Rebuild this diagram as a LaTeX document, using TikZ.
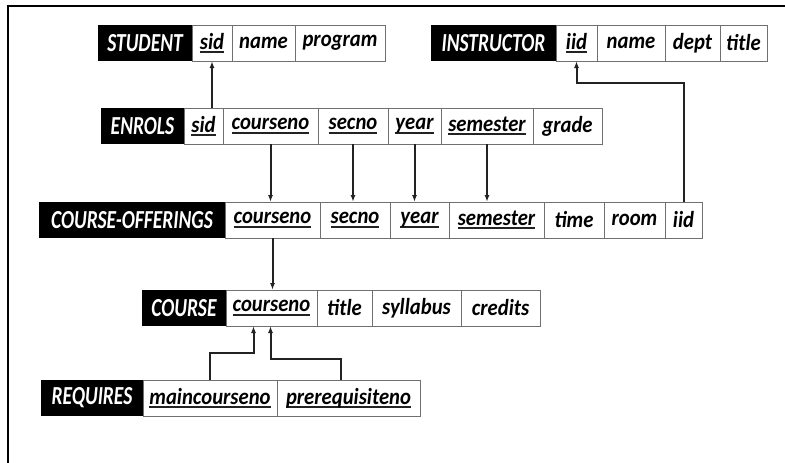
\documentclass[tikz,border=0pt]{standalone}
\usepackage{fontspec}
\usepackage{tikz}
\usetikzlibrary{arrows.meta,positioning}
\newfontfamily\fldfont{Carlito}[FakeStretch=0.9]
\newfontfamily\hdrfont{Carlito}[FakeStretch=0.75]
\definecolor{cellline}{HTML}{707070}
\definecolor{keyline}{HTML}{222222}
\newsavebox\pkbox
\newcommand{\pk}[1]{\sbox\pkbox{#1}\rlap{\color{keyline}\rule[-4pt]{\wd\pkbox}{2pt}}\usebox\pkbox}

\begin{document}
\begin{tikzpicture}[x=1pt, y=-1pt,
		hdr/.style={fill=black, text=white, inner sep=0pt, outer sep=0pt,
				minimum height=36pt,
				font=\hdrfont\bfseries\itshape\fontsize{26}{28}\selectfont},
		fld/.style={draw=cellline, line width=0.8pt, fill=white,
				inner sep=0pt, outer sep=0pt, minimum height=36pt,
				font=\fldfont\bfseries\itshape\fontsize{23}{24}\selectfont},
		fk/.style={-{Latex[length=7pt,width=5pt]}, line width=2pt, draw=keyline},
		]
		\useasboundingbox (0,0) rectangle (785,463);

		% ---- Marco ----
		\draw[line width=2pt] (8,463) -- (8,6) -- (785,6);

		% ---- STUDENT ----
		\node[hdr, minimum width=94, anchor=west] (s-hdr) at (98,43) {STUDENT};
		\node[fld, minimum width=40, right=0pt of s-hdr] (s-sid) {\pk{sid}};
		\node[fld, minimum width=63, right=0pt of s-sid] (s-name) {name};
		\node[fld, minimum width=90, right=0pt of s-name] (s-prog) {program};

		% ---- INSTRUCTOR ----
		\node[hdr, minimum width=125, anchor=west] (i-hdr) at (431,43) {INSTRUCTOR};
		\node[fld, minimum width=41, right=0pt of i-hdr] (i-iid) {\pk{iid}};
		\node[fld, minimum width=68, right=0pt of i-iid] (i-name) {name};
		\node[fld, minimum width=55, right=0pt of i-name] (i-dept) {dept};
		\node[fld, minimum width=47, right=0pt of i-dept] (i-title) {title};

		% ---- ENROLS ----
		\node[hdr, minimum width=83, anchor=west] (e-hdr) at (101,126) {ENROLS};
		\node[fld, minimum width=39, right=0pt of e-hdr] (e-sid) {\pk{sid}};
		\node[fld, minimum width=95, right=0pt of e-sid] (e-cno) {\pk{courseno}};
		\node[fld, minimum width=70, right=0pt of e-cno] (e-sec) {\pk{secno}};
		\node[fld, minimum width=53, right=0pt of e-sec] (e-yr) {\pk{year}};
		\node[fld, minimum width=92, right=0pt of e-yr] (e-sem) {\pk{semester}};
		\node[fld, minimum width=69, right=0pt of e-sem] (e-grade) {grade};

		% ---- COURSE-OFFERINGS ----
		\node[hdr, minimum width=186, anchor=west] (co-hdr) at (39,220) {COURSE-OFFERINGS};
		\node[fld, minimum width=95, right=0pt of co-hdr] (co-cno) {\pk{courseno}};
		\node[fld, minimum width=70, right=0pt of co-cno] (co-sec) {\pk{secno}};
		\node[fld, minimum width=59, right=0pt of co-sec] (co-yr) {\pk{year}};
		\node[fld, minimum width=95, right=0pt of co-yr] (co-sem) {\pk{semester}};
		\node[fld, minimum width=60, right=0pt of co-sem] (co-time) {time};
		\node[fld, minimum width=61, right=0pt of co-time] (co-room) {room};
		\node[fld, minimum width=37, right=0pt of co-room] (co-iid) {iid};

		% ---- COURSE ----
		\node[hdr, minimum width=84, anchor=west] (c-hdr) at (142,308) {COURSE};
		\node[fld, minimum width=91, right=0pt of c-hdr] (c-cno) {\pk{courseno}};
		\node[fld, minimum width=55, right=0pt of c-cno] (c-title) {title};
		\node[fld, minimum width=89, right=0pt of c-title] (c-syl) {syllabus};
		\node[fld, minimum width=79, right=0pt of c-syl] (c-cred) {credits};

		% ---- REQUIRES ----
		\node[hdr, minimum width=102, anchor=west] (r-hdr) at (41,398) {REQUIRES};
		\node[fld, minimum width=134, right=0pt of r-hdr] (r-main) {\pk{maincourseno}};
		\node[fld, minimum width=143, right=0pt of r-main] (r-pre) {\pk{prerequisiteno}};

		% ---- Claves foraneas ----
		\draw[fk] (e-sid.north -| s-sid) -- (s-sid.south);
		\draw[fk] (e-cno.south) -- (e-cno.south |- co-cno.north);
		\draw[fk] (e-sec.south) -- (e-sec.south |- co-sec.north);
		\draw[fk] (e-yr.south) -- (e-yr.south |- co-yr.north);
		\draw[fk] (e-sem.south) -- (e-sem.south |- co-sem.north);
		\draw[fk] (co-iid.north) |- (i-iid.south |- 0,83) -- (i-iid.south);
		\draw[fk] (co-cno.south) -- (co-cno.south |- c-cno.north);

		\coordinate (c-in1) at ([xshift=-18pt]c-cno.south);
		\coordinate (c-in2) at ([xshift=-1pt]c-cno.south);
		\draw[fk] (r-main.north) |- (c-in1 |- 0,353) -- (c-in1);
		\draw[fk] ([xshift=-8pt]r-pre.north) |- (c-in2 |- 0,359) -- (c-in2);

	\end{tikzpicture}
\end{document}
